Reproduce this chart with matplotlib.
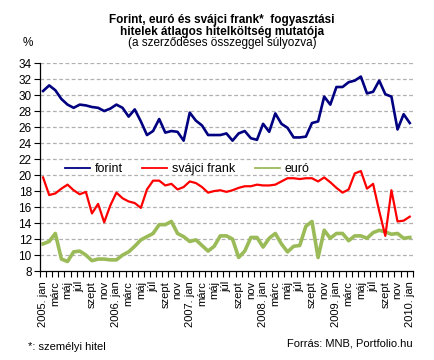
import matplotlib
matplotlib.use('Agg')
import matplotlib.pyplot as plt
import numpy as np

plt.rcParams['font.family'] = ['Liberation Sans', 'DejaVu Sans']

honapok = ['jan', 'febr', 'márc', 'ápr', 'máj', 'jún', 'júl', 'aug', 'szept', 'okt', 'nov', 'dec']
evek = [2005, 2006, 2007, 2008, 2009, 2010]

forint = [30.5, 31.2, 30.6, 29.5, 28.8, 28.4, 28.8, 28.7, 28.5, 28.4, 28.0, 28.3,
          28.8, 28.4, 27.3, 28.2, 26.7, 25.0, 25.5, 27.0, 25.3, 25.5, 25.4, 24.3,
          27.8, 26.8, 26.2, 25.0, 25.0, 25.0, 25.2, 24.3, 25.2, 25.5, 24.6, 24.4,
          26.4, 25.4, 27.7, 26.4, 25.9, 24.7, 24.7, 24.8, 26.5, 26.7, 29.8, 28.8,
          31.0, 31.0, 31.6, 31.8, 32.3, 30.2, 30.4, 31.8, 30.1, 29.8, 25.7, 27.6,
          26.5]
svajci_frank = [19.7, 17.5, 17.7, 18.3, 18.8, 18.1, 17.6, 17.9, 15.2, 16.4, 14.1, 16.2,
                17.8, 17.1, 16.7, 16.5, 15.9, 18.2, 19.3, 19.3, 18.7, 18.9, 18.2, 18.5,
                19.2, 19.0, 18.5, 17.8, 18.0, 18.1, 17.9, 18.1, 18.4, 18.6, 18.6, 18.8,
                18.7, 18.7, 18.8, 19.2, 19.6, 19.6, 19.5, 19.6, 19.6, 19.2, 19.7, 19.1,
                18.4, 17.8, 18.2, 20.2, 20.5, 18.3, 18.9, 15.5, 12.4, 18.1, 14.2, 14.3,
                14.8]
euro = [11.4, 11.7, 12.7, 9.5, 9.2, 10.4, 10.5, 10.0, 9.3, 9.5, 9.5, 9.4,
        9.4, 10.0, 10.4, 11.1, 11.9, 12.3, 12.7, 13.8, 13.8, 14.2, 12.7, 12.3,
        11.7, 11.9, 11.2, 10.5, 11.1, 12.4, 12.4, 12.0, 9.7, 10.5, 12.2, 12.2,
        11.0, 12.1, 12.7, 11.4, 10.4, 11.1, 11.2, 13.6, 14.2, 9.7, 13.1, 12.1,
        12.7, 12.7, 11.8, 12.4, 12.4, 12.1, 12.8, 13.1, 12.9, 12.6, 12.7, 12.1,
        12.2]

# honap cimkek: minden masodik honap, januarnal az evszammal
cimkek = []
for e in evek:
    for h in honapok:
        if h == 'jan':
            cimkek.append(str(e) + '. jan')
        else:
            cimkek.append(h)
cimkek = cimkek[:len(forint)]

x = np.arange(len(forint))

fig = plt.figure(figsize=(4.35, 3.6), dpi=100)
ax = fig.add_axes([0.092, 0.247, 0.857, 0.578])

ax.set_axisbelow(True)
for yv in range(10, 35, 2):
    ax.axhline(yv, color='#b0b0b0', lw=0.9, ls=(0, (3, 2)), zorder=0)

ax.plot(x, forint, color='#000080', lw=1.9, label='forint', zorder=3)
ax.plot(x, svajci_frank, color='#ff0000', lw=1.6, label='svájci frank', zorder=3)
ax.plot(x, euro, color='#9bbb59', lw=2.6, label='euró', zorder=2)

ax.set_xlim(-0.5, len(forint) - 0.5)
ax.set_ylim(8, 34)
ax.set_yticks(range(8, 35, 2))
ax.tick_params(axis='y', labelsize=8.5, length=4, width=0.8, direction='out', pad=2)

ax.set_xticks(x[::2])
ax.set_xticklabels(cimkek[::2], rotation=90, fontsize=8)
ax.set_xticks(np.arange(-0.5, len(forint), 1), minor=True)
ax.tick_params(axis='x', which='major', length=0, pad=7)
ax.tick_params(axis='x', which='minor', length=4, width=0.8, direction='out')

for s in ['top', 'right']:
    ax.spines[s].set_visible(False)
ax.spines['left'].set_linewidth(0.9)
ax.spines['bottom'].set_linewidth(0.9)

leg = ax.legend(loc='center left', bbox_to_anchor=(0.067, 0.49), ncol=3, frameon=False,
                fontsize=9, handlelength=2.0, columnspacing=1.6, handletextpad=0.35,
                borderpad=0, borderaxespad=0)
for ln in leg.get_lines():
    ln.set_linewidth(1.3)

fig.text(0.51, 0.945, 'Forint, euró és svájci frank*  fogyasztási', ha='center',
         va='center', fontsize=8.5, fontweight='bold')
fig.text(0.51, 0.912, 'hitelek átlagos hitelköltség mutatója', ha='center',
         va='center', fontsize=8.5, fontweight='bold')
fig.text(0.51, 0.88, '(a szerződéses összeggel súlyozva)', ha='center',
         va='center', fontsize=8.5)
fig.text(0.065, 0.88, '%', ha='center', va='center', fontsize=8.5)

fig.text(0.065, 0.035, '*: személyi hitel', ha='left', va='center', fontsize=8)
fig.text(0.948, 0.047, 'Forrás: MNB, Portfolio.hu', ha='right', va='center', fontsize=8)

plt.savefig('out.png', dpi=100)
